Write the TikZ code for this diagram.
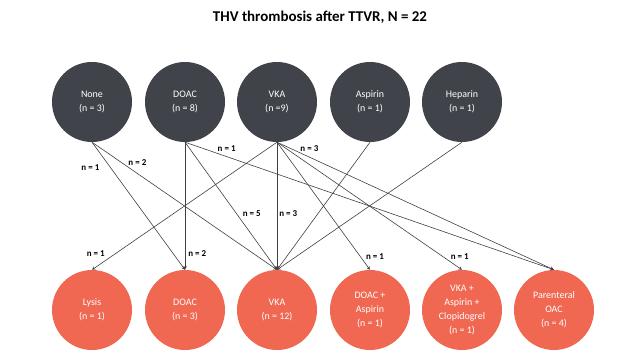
\documentclass[tikz,border=0pt]{standalone}
\usepackage{fontspec}
\setmainfont{Carlito}
\usetikzlibrary{arrows}
\definecolor{thvdark}{RGB}{64,67,73}
\definecolor{thvred}{RGB}{240,104,82}
\tikzset{
 before/.style={circle,fill=thvdark,text=white,minimum size=80bp,inner sep=0pt,align=center,font=\fontsize{10}{14}\selectfont},
 result/.style={circle,fill=thvred,text=white,minimum size=80bp,inner sep=0pt,align=center,font=\fontsize{10}{14}\selectfont},
 count/.style={font=\bfseries\fontsize{9}{10}\selectfont,inner sep=1bp},
 flow/.style={->,>=stealth,line width=0.6bp,draw=black!75}
}
\begin{document}
\begin{tikzpicture}

\useasboundingbox (0bp,0bp) rectangle (640bp,-360bp);
\node (title) at (320bp,-17bp)[font=\bfseries\fontsize{15}{18}\selectfont] {THV thrombosis after TTVR, N = 22};
\node (P1) at (92bp,-102bp)[before] {None\\(n = 3)};
\node (P2) at (185bp,-102bp)[before] {DOAC\\(n = 8)};
\node (P3) at (277bp,-102bp)[before] {VKA\\(n =9)};
\node (P4) at (370bp,-102bp)[before] {Aspirin\\(n = 1)};
\node (P5) at (462bp,-102bp)[before] {Heparin\\(n = 1)};
\node (T1) at (92bp,-310bp)[result] {Lysis\\(n = 1)};
\node (T2) at (185bp,-310bp)[result] {DOAC\\(n = 3)};
\node (T3) at (277bp,-310bp)[result] {VKA\\(n = 12)};
\node (T4) at (370bp,-310bp)[result] {DOAC +\\Aspirin\\(n = 1)};
\node (T5) at (462bp,-310bp)[result] {VKA +\\Aspirin +\\Clopidogrel\\(n = 1)};
\node (T6) at (554bp,-310bp)[result] {Parenteral\\OAC\\(n = 4)};
\draw [flow] (P1.south) to node[count,pos=0.2,left=10bp] {n = 1} (T2.north);
\draw [flow] (P1.south) to node[count,pos=0.19,above right=0bp] {n = 2} (T3.north);
\draw [flow] (P2.south) to node[count,pos=0.87,right=2bp] {n = 2} (T2.north);
\draw [flow] (P2.south) to node[count,pos=0.56,right=5bp] {n = 5} (T3.north);
\draw [flow] (P2.south) to node[count,pos=0.085,above right=0bp] {n = 1} (T6.north);
\draw [flow] (P3.south) to node[count,pos=0.87,left=10bp] {n = 1} (T1.north);
\draw [flow] (P3.south) to node[count,pos=0.56,right=1bp] {n = 3} (T3.north);
\draw [flow] (P3.south) to node[count,pos=0.9,right=4bp] {n = 1} (T4.north);
\draw [flow] (P3.south) to node[count,pos=0.9,right=6bp] {n = 1} (T5.north);
\draw [flow] (P3.south) to node[count,pos=0.08,above right=0bp] {n = 3} (T6.north);
\draw [flow] (P4.south) to (T3.north);
\draw [flow] (P5.south) to (T3.north);
\end{tikzpicture}
\end{document}
